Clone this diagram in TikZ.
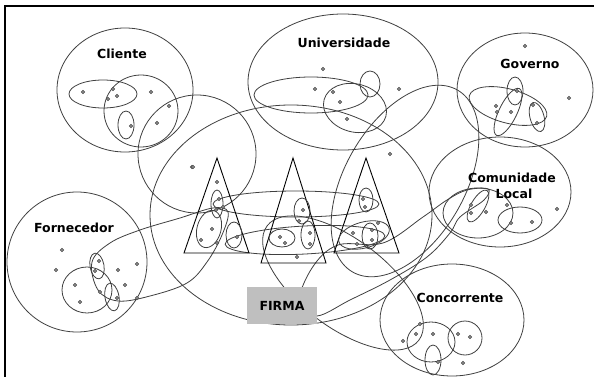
\documentclass[tikz,border=0pt]{standalone}
\usepackage{fontspec}
\newfontfamily\lblfont{DejaVu Sans}
\begin{document}
\begin{tikzpicture}[x=1pt,y=-1pt,
  loop/.style={draw=black!75, line width=0.8pt},
  tri/.style={draw=black, line width=0.9pt},
  dotmark/.style={draw=black!70, fill=black!45, line width=0.5pt},
  lbl/.style={font=\lblfont\bfseries\fontsize{12.5}{14}\selectfont, text=black, inner sep=0pt},
  frame/.style={draw=black, line width=2.6pt},
  firmbox/.style={fill=black!25, minimum width=70pt, minimum height=37pt, inner sep=0pt,
    font=\lblfont\bfseries\fontsize{12.5}{14}\selectfont}]
\useasboundingbox (0,0) rectangle (594,377);
\fill[white] (0,0) rectangle (594,377);
\draw[frame] (5,377) -- (5,6) -- (594,6);

% --- Cliente ---
\draw[loop] (125,90) ellipse (68 and 62);
\draw[loop] (103,94) ellipse (34 and 14);
\draw[loop] (141,111) ellipse (37 and 36);
\draw[loop] (126,125) ellipse (8 and 14);
\draw[loop] (197,154) circle (59);

% --- Universidade ---
\draw[loop] (343,82) ellipse (95 and 68);
\draw[loop] (311,95) ellipse (57 and 18);
\draw[loop, rotate around={-15:(355,108)}] (355,108) ellipse (32 and 24);
\draw[loop] (370,84) ellipse (10 and 13);

% --- Governo ---
\draw[loop] (525,90) ellipse (68 and 57);
\draw[loop] (515,91) ellipse (8 and 14);
\draw[loop, rotate around={64:(508,112)}] (508,112) ellipse (26 and 9);
\draw[loop, rotate around={15:(537,117)}] (537,117) ellipse (7 and 15);
\draw[loop, rotate around={-15:(508,106)}] (508,106) ellipse (40 and 17);

% --- Comunidade Local ---
\draw[loop] (500,192) ellipse (71 and 55);
\draw[loop] (478,213) ellipse (35 and 25);
\draw[loop] (520,220) ellipse (22 and 13);
\draw[loop, rotate around={60:(478,206)}] (478,206) ellipse (18 and 7);

% --- Concorrente ---
\draw[loop] (452,320) ellipse (72 and 56);
\draw[loop] (431,342) ellipse (24 and 20);
\draw[loop] (465,338) ellipse (17 and 17);
\draw[loop] (433,360) ellipse (8 and 15);

% --- Fornecedor ---
\draw[loop] (77,262) circle (70);
\draw[loop] (87,290) ellipse (25 and 23);
\draw[loop, rotate around={10:(97,266)}] (97,266) ellipse (7 and 13);
\draw[loop, rotate around={10:(112,297)}] (112,297) ellipse (7 and 14);

% --- firm environment and linking loops ---
\draw[loop] (291,215) ellipse (141 and 110);
\draw[loop, rotate around={60:(405,181)}] (405,181) ellipse (105 and 60);
\draw[loop, rotate around={-37:(343,283)}] (343,283) ellipse (95 and 44);
\draw[loop] plot[smooth cycle, tension=0.6] coordinates {(92,262) (110,243) (140,230) (180,218) (213,208) (228,212) (222,235) (207,262) (187,283) (150,296) (118,301) (98,290)};
\draw[loop] plot[smooth cycle, tension=0.6] coordinates {(338,245) (383,243) (423,217) (447,200) (467,190) (488,189) (484,200) (460,217) (450,233) (427,257) (390,280) (350,300) (317,316) (298,305) (312,268)};
\draw[loop] (296,204) ellipse (83 and 13);
\draw[loop, rotate around={3:(305,240)}] (305,240) ellipse (80 and 14);

% --- triangles ---
\draw[tri] (217,158) -- (249,253) -- (184,253) -- cycle;
\draw[tri] (293,158) -- (326,263) -- (261,263) -- cycle;
\draw[tri] (366,158) -- (399,253) -- (334,253) -- cycle;

\draw[loop] (217,204) ellipse (6 and 14);
\draw[loop, rotate around={-15:(209,229)}] (209,229) ellipse (12 and 19);
\draw[loop] (234,235) ellipse (8 and 13);
\draw[loop] (302,211) ellipse (8 and 13);
\draw[loop] (282,238) ellipse (13 and 9);
\draw[loop] (308,235) ellipse (7 and 14);
\draw[loop] (366,200) ellipse (7 and 12);
\draw[loop] (370,236) ellipse (8 and 13);
\draw[loop, rotate around={15:(364,235)}] (364,235) ellipse (26 and 13);

% --- members ---
\foreach \p in {(83,92),(113,89),(108,99),(117,96),(151,92),(169,106),(131,126),(157,123),(192,167),
  (323,69),(315,89),(333,92),(340,102),(347,119),(399,89),(390,154),
  (525,46),(569,98),(517,91),(496,106),(497,112),(511,112),(533,105),(537,123),
  (471,205),(471,213),(486,212),(507,205),(511,223),(532,222),(557,209),
  (403,341),(416,334),(420,324),(433,334),(458,334),(470,337),(438,362),(463,363),
  (62,250),(56,270),(75,285),(80,302),(99,261),(95,271),(100,292),(118,270),(137,264),(125,285),(117,298),(137,298),
  (193,167),(217,182),(219,199),(216,210),(223,207),(212,229),(201,240),(217,243),(237,237),
  (303,210),(299,221),(280,237),(310,233),(310,244),(285,243),(297,257),
  (363,199),(365,207),(353,233),(372,230),(372,240),(357,244),(378,223)}
  \filldraw[dotmark] \p circle (1.7);

% --- labels ---
\node[lbl] (cliente) at (122,54) {Cliente};
\node[lbl] (univ) at (344,43) {Universidade};
\node[lbl] (gov) at (530,64) {Governo};
\node[lbl] (comun) at (512,178) {Comunidade};
\node[lbl] (local) at (514,194) {Local};
\node[lbl] (forn) at (74,228) {Fornecedor};
\node[lbl] (conc) at (460,298) {Concorrente};
\node[firmbox] (firma) at (282,305.5) {FIRMA};
\end{tikzpicture}
\end{document}
